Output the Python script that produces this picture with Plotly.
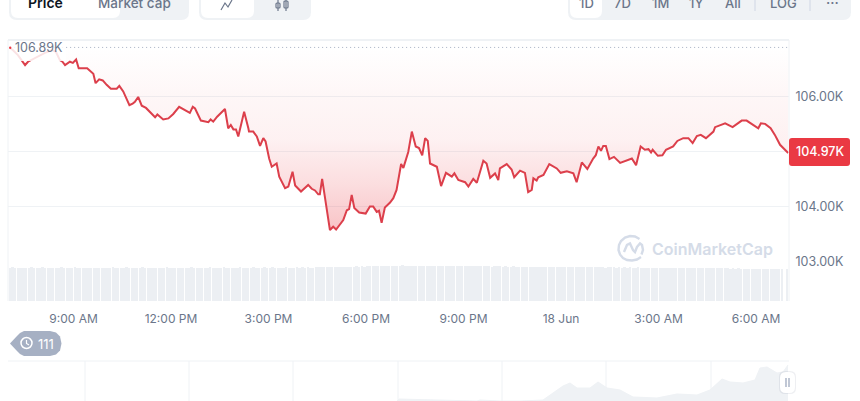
import pandas as pd
import plotly.graph_objects as go

W, H = 860, 401
START = pd.Timestamp("2025-06-17 07:00")

# hours since 7:00 AM on 17 Jun, price in thousands of USD
hours = [0.05,0.14,0.29,0.45,0.51,0.60,0.88,1.12,1.34,1.46,1.58,1.66,1.74,1.89,1.98,2.08,2.16,2.42,2.61,2.68,2.79,2.90,3.02,3.15,3.33,3.41,3.53,3.72,3.82,3.89,3.99,4.10,4.23,4.51,4.58,4.76,4.92,5.07,5.25,5.38,5.58,5.67,5.74,5.92,6.15,6.22,6.30,6.42,6.66,6.76,6.84,6.92,7.00,7.07,7.25,7.38,7.40,7.53,7.64,7.74,7.84,7.91,8.02,8.10,8.25,8.33,8.51,8.61,8.74,8.82,9.00,9.22,9.33,9.43,9.53,9.58,9.65,9.89,9.99,10.08,10.30,10.41,10.48,10.56,10.64,10.79,10.99,11.12,11.22,11.33,11.40,11.48,11.58,11.74,11.84,11.94,12.08,12.15,12.30,12.41,12.53,12.63,12.73,12.82,12.90,12.97,13.18,13.31,13.46,13.64,13.72,13.84,14.05,14.15,14.30,14.41,14.61,14.71,14.82,14.97,15.07,15.12,15.33,15.48,15.56,15.74,15.89,15.99,16.10,16.15,16.25,16.30,16.46,16.64,16.87,16.99,17.18,17.38,17.48,17.64,17.81,17.99,18.07,18.15,18.23,18.30,18.38,18.49,18.63,18.82,19.18,19.31,19.45,19.58,19.69,19.77,19.82,19.98,20.12,20.23,20.45,20.58,20.76,20.92,21.05,21.18,21.30,21.46,21.69,21.74,22.05,22.28,22.56,22.71,23.07,23.15,23.28,23.45,23.58,23.74,23.89,23.99]
prices = [106.88,106.84,106.75,106.63,106.57,106.63,106.72,106.79,106.84,106.81,106.66,106.63,106.57,106.63,106.61,106.67,106.51,106.51,106.41,106.24,106.31,106.29,106.21,106.14,106.14,106.19,106.09,105.84,105.87,105.90,105.99,105.83,105.79,105.62,105.67,105.58,105.60,105.68,105.81,105.77,105.70,105.81,105.78,105.56,105.53,105.58,105.54,105.63,105.77,105.42,105.48,105.40,105.40,105.27,105.72,105.42,105.36,105.36,105.27,105.10,105.24,105.18,104.87,104.72,104.78,104.54,104.33,104.36,104.63,104.38,104.27,104.39,104.32,104.29,104.22,104.22,104.50,103.57,103.63,103.58,103.75,103.93,103.95,104.21,103.97,103.89,103.87,104.00,104.00,103.90,103.92,103.70,103.98,104.07,104.15,104.30,104.77,104.70,104.99,105.36,105.09,105.06,104.93,105.24,105.19,104.78,104.72,104.37,104.61,104.54,104.60,104.48,104.44,104.36,104.50,104.43,104.83,104.78,104.52,104.60,104.48,104.69,104.77,104.67,104.53,104.65,104.61,104.26,104.30,104.51,104.47,104.53,104.57,104.77,104.69,104.61,104.64,104.60,104.44,104.80,104.68,104.87,104.93,105.09,105.01,105.10,105.10,104.86,104.90,104.79,104.87,104.75,105.09,105.03,105.04,104.98,105.03,104.92,104.93,105.03,105.09,105.19,105.24,105.24,105.15,105.28,105.30,105.24,105.36,105.44,105.51,105.44,105.56,105.56,105.42,105.51,105.50,105.42,105.30,105.12,105.03,104.97]
high_price = 106.89
last_label = "104.97K"
high_label = "106.89K"

# five-minute volume, relative units
volume = [
    33,33.6,32.7,33.4,33.1,32.8,33.5,33.2,33.7,33,32.9,33.4,33.6,33.1,32.7,33.3,33.5,33,33.2,33.6,32.8,33.1,33.4,32.9,
    33.6,33.2,33,33.5,33.3,32.7,33.1,33.4,32.9,33.5,33.2,33,32.8,33.3,33.6,33.1,32.9,33.4,33.2,33.7,33,33.3,33.5,32.9,
    33.1,33.6,33.3,33,33.4,32.8,33.2,33.5,33.1,32.9,33.6,33.3,33,33.4,33.2,32.8,33.5,33.1,33.3,33.6,33,32.9,33.4,33.2,
    33.5,33.1,33.7,33.3,32.9,33.4,33.2,33.6,33,33.3,33.5,33.1,33.4,33.7,33.2,33,33.5,33.3,33.6,33.1,33.4,33.2,33.6,33,
    33.3,33.7,33.2,33.5,33.1,33.4,33.6,33.3,33.5,33.2,33.8,33.4,33.6,33.3,33.7,33.5,33.4,33.8,33.6,34,33.7,33.9,34.1,33.8,
    34.2,34,34.3,34.1,34.4,34.2,34.5,34.3,34.6,34.4,34.7,34.5,34.9,34.7,35,34.8,35.1,34.9,35.2,35,35.3,35.1,35.4,35.5,
    35.2,35.6,35.3,35.1,35.4,35.2,35.5,35.3,35.1,35.4,35.2,35.5,35.3,35,35.4,35.2,35.3,35,35.2,35.1,35.3,35,35.1,34.9,
    35.1,34.8,35,34.9,34.7,35,34.8,34.6,34.9,34.7,34.5,34.8,34.6,34.7,34.4,34.6,34.5,34.3,34.6,34.4,34.5,34.2,34.4,34.3,
    34.1,34.4,34.2,34.3,34,34.3,34.1,34.2,33.9,34.2,34,34.1,33.9,34.1,33.8,34,34.1,33.8,34,33.9,33.7,34,33.8,33.9,
    33.6,33.9,33.7,33.8,33.5,33.8,33.6,33.7,33.4,33.7,33.5,33.6,33.4,33.6,33.3,33.5,33.6,33.3,33.5,33.2,33.4,33.5,33.2,33.4,
    33.1,33.3,33.4,33.1,33.3,33,33.2,33.3,33,33.2,32.9,33.2,33,33.1,32.9,33.1,32.8,33,33.1,32.8,33,32.7,32.9,32.8,
    32.6,32.8,32.5,32.7,32.4,32.6,32.5,32.3,32.5,32.2,32.4,32.1,32.3,32.4,32.1,32.3,32,32.2,32.1,32,32.2,32,0,31.8,
]
volume_hours = [i / 12 for i in range(len(volume))]

# overview strip
nav_x = [397,399,477,480,500,520,543,553,563,570,577,590,598,607,620,633,657,677,697,710,722,730,743,755,760,767,777,783,788]
nav_level = [0,2,0,1,0,0,1,8,15,18,13,13,19,13,11,4,3,7,6,11,22,19,18,21,33,34,28,29,36]
nav_grid = [85,189,293,398,502,606,711]

tick_hours = [2,5,8,11,14,17,20,23]
tick_labels = ["9:00 AM","12:00 PM","3:00 PM","6:00 PM","9:00 PM","18 Jun","3:00 AM","6:00 AM"]
price_ticks = [103,104,105,106]
price_tick_labels = ["103.00K","104.00K","","106.00K"]

FONT = "Inter"
GREY = "#6b768a"
PALE = "#eff2f5"
RED = "#ea3943"
LINE = "#dc3f4b"

def px(x): return x / W
def py(y): return 1 - y / H
def t(h): return START + pd.Timedelta(hours=h)

def rrect(x0, y0, x1, y1, r):
    X0, X1, Y0, Y1 = px(x0), px(x1), py(y0), py(y1)
    rx, ry = r / W, r / H
    return (f"M{X0+rx},{Y0} L{X1-rx},{Y0} Q{X1},{Y0} {X1},{Y0-ry} L{X1},{Y1+ry} Q{X1},{Y1} {X1-rx},{Y1} "
            f"L{X0+rx},{Y1} Q{X0},{Y1} {X0},{Y1+ry} L{X0},{Y0-ry} Q{X0},{Y0} {X0+rx},{Y0} Z")

def poly(pts, close=False):
    s = "M" + " L".join(f"{px(a)},{py(b)}" for a, b in pts)
    return s + (" Z" if close else "")

def shape(path, fill="rgba(0,0,0,0)", color=None, width=0, layer="above"):
    return dict(type="path", xref="paper", yref="paper", path=path, fillcolor=fill,
                line=dict(color=color or "rgba(0,0,0,0)", width=width), layer=layer)

def seg(x0, y0, x1, y1, color, width=1, layer="above"):
    return dict(type="line", xref="paper", yref="paper", x0=px(x0), x1=px(x1), y0=py(y0), y1=py(y1),
                line=dict(color=color, width=width), layer=layer)

def label(x, y, text, size=13, color=GREY, weight=400, anchor="center", **kw):
    return dict(xref="paper", yref="paper", x=px(x), y=py(y), text=text, showarrow=False,
                xanchor=anchor, yanchor="middle", font=dict(family=FONT, size=size, color=color, weight=weight), **kw)

fig = go.Figure()
fig.add_trace(go.Bar(x=[t(h + 1 / 24) for h in volume_hours], y=volume, xaxis="x", yaxis="y2",
                     marker=dict(color="#eceff3", line=dict(width=0)), width=270000, hoverinfo="skip"))
fig.add_trace(go.Scatter(x=[t(hours[0]), t(24.015)], y=[high_price, high_price], mode="lines",
                         line=dict(color="#a6b0c3", width=1, dash="1px 3px"), hoverinfo="skip"))
fig.add_trace(go.Scatter(x=[t(h) for h in hours], y=[high_price] * len(hours), mode="lines",
                         line=dict(width=0), hoverinfo="skip"))
fig.add_trace(go.Scatter(x=[t(h) for h in hours], y=prices, mode="lines", fill="tonexty",
                         line=dict(color=LINE, width=2),
                         fillgradient=dict(type="vertical",
                                           colorscale=[[0, "rgba(234,57,67,0.30)"], [0.25, "rgba(234,57,67,0.17)"],
                                                       [0.5, "rgba(234,57,67,0.07)"], [0.75, "rgba(234,57,67,0.04)"],
                                                       [1, "rgba(234,57,67,0)"]]),
                         hoverinfo="skip"))
fig.add_trace(go.Scatter(x=nav_x, y=nav_level, xaxis="x3", yaxis="y3", mode="lines", fill="tozeroy",
                         line=dict(color="#eff2f5", width=1), fillcolor=PALE, hoverinfo="skip"))

shapes = [
    # control groups
    shape(rrect(9, -20, 189, 20, 8), PALE),
    shape(rrect(11, -20, 120, 18, 7), "#ffffff"),
    shape(rrect(199, -20, 311, 20, 8), PALE),
    shape(rrect(201, -20, 254, 18, 7), "#ffffff"),
    shape(rrect(568, -20, 851, 20, 8), PALE),
    shape(rrect(570, -20, 602, 18, 7), "#ffffff"),
    seg(755, 0, 755, 11, "#cfd6e4"), seg(810, 0, 810, 11, "#cfd6e4"),
    # line icon and candle icon
    shape(poly([(221, 10), (225, 3), (228, 7), (232, 0)]), color=GREY, width=1.2),
    shape(rrect(276, 3, 280, 8, 1), color=GREY, width=1.2),
    shape(rrect(284, 1, 288, 8, 1), color=GREY, width=1.2),
    seg(278, 0, 278, 11, GREY, 1.2), seg(286, 0, 286, 11, GREY, 1.2),
    # chart frame
    seg(8, 40, 789, 40, PALE, 2), seg(8, 40, 8, 301, PALE, 1), seg(789, 40, 789, 301, PALE, 1),
    # veil behind the high label
    shape(rrect(9, 41, 66, 61, 0), "rgba(255,255,255,0.85)"),
    # watermark logo
    shape(poly([(639.5, 239), (635, 236.5), (630, 236), (625, 237.5), (621, 241), (619, 245), (618.5, 250),
                (620, 254.5), (623, 258), (627, 260), (632, 260.5), (637, 259.5), (641, 257)]), color="#d5dce8", width=2.4),
    shape(poly([(624, 252), (627, 245), (630, 243.5), (633, 250), (635, 252), (637, 247), (640, 243.5), (642, 245), (643, 250), (641.5, 254.5)]),
          color="#d5dce8", width=2.4),
    # last price badge
    shape(rrect(789, 138, 850, 166, 3), RED),
    # high marker
    dict(type="circle", xref="paper", yref="paper", x0=px(9), x1=px(11.4), y0=py(46.5), y1=py(48.9),
         fillcolor=RED, line=dict(width=0)),
    # history pill
    shape(poly([(10, 343.5), (17, 336), (20, 333), (24, 331), (50, 331), (56, 332.5), (60, 336.5), (61.5, 343.5),
                (60, 350.5), (56, 354.5), (50, 356), (24, 356), (20, 354), (17, 351)], True), "#a6b0c3"),
    dict(type="circle", xref="paper", yref="paper", x0=px(21), x1=px(32), y0=py(337.5), y1=py(348.5),
         line=dict(color="#ffffff", width=1.5), fillcolor="rgba(0,0,0,0)"),
    shape(poly([(26.5, 340), (26.5, 343.5), (29, 345)]), color="#ffffff", width=1.2),
    # overview strip frame and handle
    seg(8, 361, 789, 361, PALE, 1),
    *[seg(x, 361, x, 401, PALE, 1, "below") for x in nav_grid],
    shape(rrect(779, 371, 796, 394, 6), "rgba(88,102,126,0.10)"),
    shape(rrect(780, 372, 795, 393, 6), "#ffffff"),
    seg(786, 378, 786, 387, "#a6b0c3", 1.4), seg(789, 378, 789, 387, "#a6b0c3", 1.4),
]

annotations = [
    label(45, 3, "Price", 14, "#0d1421", 600),
    label(134, 3, "Market cap", 13.5, GREY, 500),
    label(586, 3, "1D", 13, GREY, 500),
    label(622.5, 3, "7D", 13, GREY, 500),
    label(660, 3, "1M", 13, GREY, 500),
    label(696, 3, "1Y", 13, GREY, 500),
    label(733, 3, "All", 13, GREY, 500),
    label(783, 3, "LOG", 13, GREY, 500),
    label(832, 3, "···", 14, GREY, 500),
    label(38.5, 47.5, high_label, 12.5, GREY, 400),
    label(819.5, 152, last_label, 12.5, "#ffffff", 500),
    label(712, 249, "CoinMarketCap", 16, "#d5dce8", 600),
    label(46, 343.5, "111", 13, "#ffffff", 400),
]

fig.update_layout(
    width=W, height=H, margin=dict(l=0, r=0, t=0, b=0), paper_bgcolor="#ffffff", plot_bgcolor="#ffffff",
    showlegend=False, bargap=0, hovermode=False, shapes=shapes, annotations=annotations,
    xaxis=dict(domain=[px(8), px(789)], type="date", range=[t(-0.0154), t(24.015)], tickmode="array",
               tickvals=[t(h) for h in tick_hours], ticktext=tick_labels, showgrid=False, zeroline=False,
               ticks="outside", ticklen=6.5, tickcolor="rgba(0,0,0,0)", showline=False,
               tickfont=dict(family=FONT, size=12, color=GREY), anchor="y"),
    yaxis=dict(domain=[py(301), py(40)], range=[102.28, 107.025], side="right", tickmode="array",
               tickvals=price_ticks, ticktext=price_tick_labels, gridcolor=PALE, gridwidth=1, zeroline=False,
               ticks="outside", ticklen=3, tickcolor="rgba(0,0,0,0)", showline=False,
               tickfont=dict(family=FONT, size=12.5, color=GREY), anchor="x"),
    yaxis2=dict(domain=[py(301), py(261)], range=[0, 40], visible=False, anchor="x"),
    xaxis3=dict(domain=[px(8), px(789)], range=[8, 789], visible=False, anchor="y3"),
    yaxis3=dict(domain=[0, py(361)], range=[0, 40], visible=False, anchor="x3"),
)

fig.write_html("out.html", config=dict(displayModeBar=False),
               post_script="document.body.style.margin='0';document.body.style.overflow='hidden';")
